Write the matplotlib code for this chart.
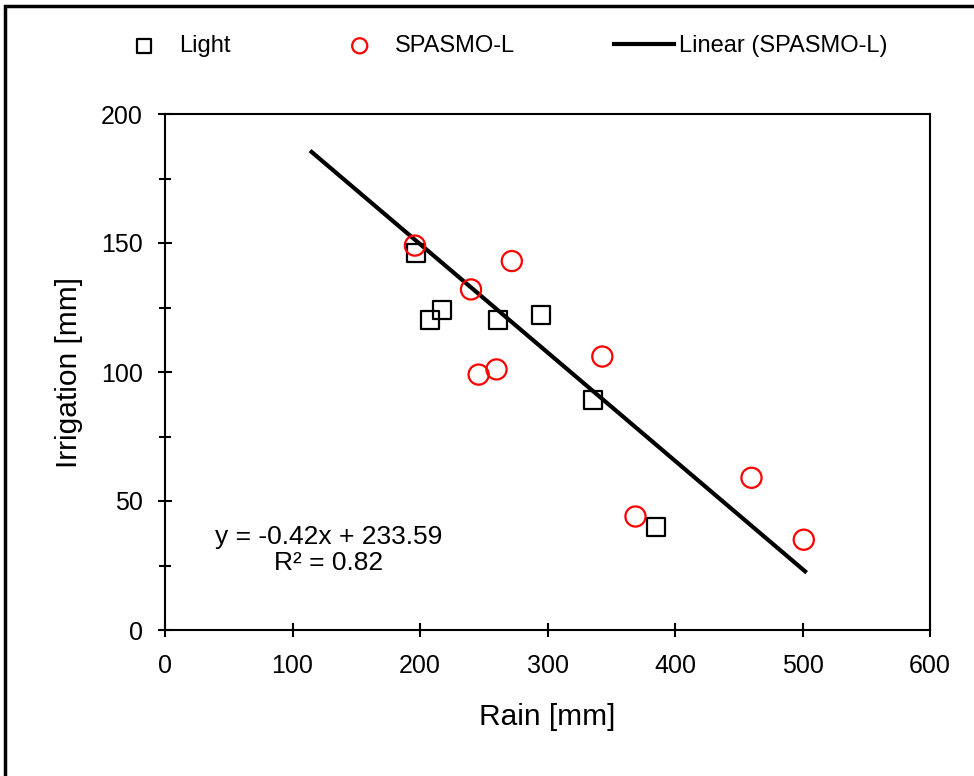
import numpy as np
import matplotlib
matplotlib.use("Agg")
import matplotlib.pyplot as plt
from matplotlib.patches import Rectangle
from matplotlib.ticker import MultipleLocator

plt.rcParams['font.family'] = ['Liberation Sans', 'DejaVu Sans']

# data
light_rain = [197, 208, 217, 261, 295, 336, 385]
light_irr = [146, 120, 124, 120, 122, 89, 40]

spasmo_rain = [196, 240, 272, 246, 260, 343, 369, 460, 501]
spasmo_irr = [149, 132, 143, 99, 101, 106, 44, 59, 35]

slope = -0.42
intercept = 233.59
r2 = 0.82
fit_range = [115, 502]

fig = plt.figure(figsize=(9.74, 7.76), dpi=100)
ax = fig.add_axes([165/974, 146/776, 765/974, 516/776])

ax.scatter(light_rain, light_irr, marker='s', s=13**2, facecolors='none',
           edgecolors='black', linewidths=1.6, label='Light', zorder=3)
ax.scatter(spasmo_rain, spasmo_irr, marker='o', s=14.5**2, facecolors='none',
           edgecolors='red', linewidths=1.6, label='SPASMO-L', zorder=3)
fx = np.array(fit_range)
ax.plot(fx, slope*fx + intercept, color='black', lw=3, label='Linear (SPASMO-L)', zorder=2)

ax.set_xlim(0, 600)
ax.set_ylim(0, 200)
ax.xaxis.set_major_locator(MultipleLocator(100))
ax.yaxis.set_major_locator(MultipleLocator(50))
ax.yaxis.set_minor_locator(MultipleLocator(25))
ax.tick_params(axis='both', which='major', direction='inout', length=10, width=1.5,
               labelsize=18)
ax.tick_params(axis='x', which='major', pad=12)
ax.tick_params(axis='y', which='major', pad=11)
ax.tick_params(axis='y', which='minor', direction='inout', length=8, width=1.5)
for s in ax.spines.values():
    s.set_linewidth(1.5)

ax.set_xlabel('Rain [mm]', fontsize=21.5, labelpad=18)
ax.set_ylabel('Irrigation [mm]', fontsize=21.5, labelpad=13)

ax.text(128, 31, f'y = {slope:.2f}x + {intercept:.2f}\nR² = {r2:.2f}',
        ha='center', va='center', fontsize=19, linespacing=1.1)

fig.legend(loc='center', bbox_to_anchor=(0.514, 1 - 46/776), ncol=3, frameon=False,
           fontsize=17, handlelength=2.55, handletextpad=0.2, columnspacing=4.2,
           markerscale=0.75)

fig.patches.append(Rectangle((5/974, -0.1), 1.2, 1 - 6/776 + 0.1, transform=fig.transFigure,
                             fill=False, edgecolor='black', lw=2.5, clip_on=False))

fig.savefig('out.png', dpi=100)
